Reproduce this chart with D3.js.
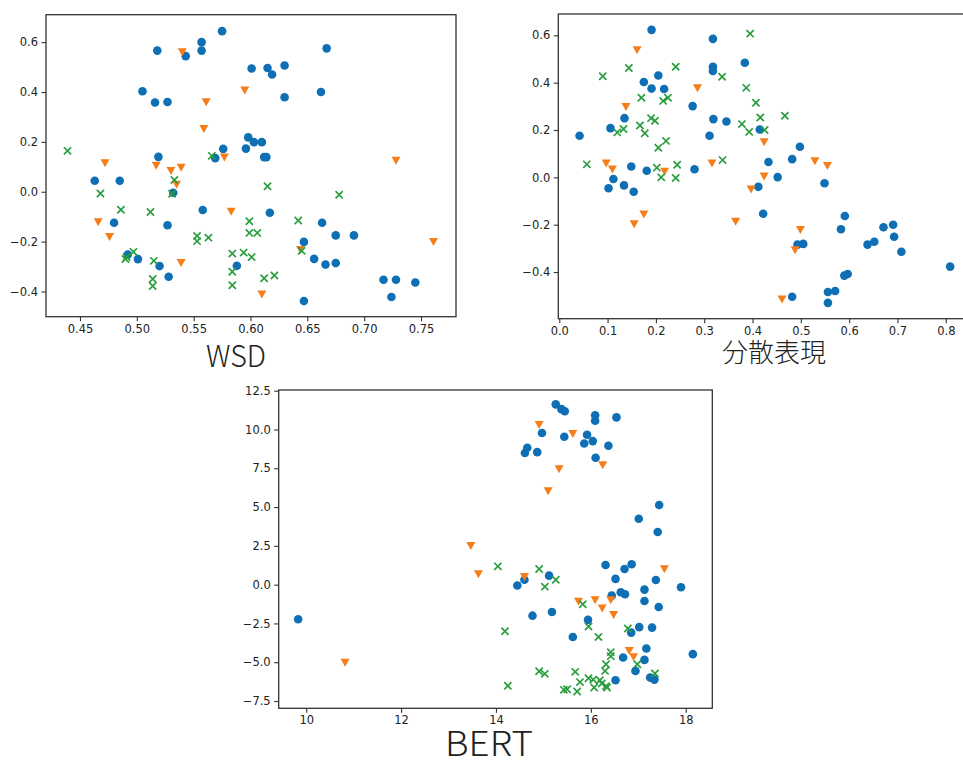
<!DOCTYPE html>
<html>
<head>
<meta charset="utf-8">
<script src="https://cdn.jsdelivr.net/npm/d3@7"></script>
<style>
  html, body { margin: 0; padding: 0; background: #fff; }
  svg { display: block; }
  .tick text { font-family: "DejaVu Sans", sans-serif; font-size: 11.5px; fill: #222; }
  .tick line { stroke: #333; stroke-width: 1.1; }
  .domain { display: none; }
  .xlabel { font-family: "Noto Sans CJK JP", "Noto Sans", sans-serif; font-weight: 300; fill: #222; }
</style>
</head>
<body>
<svg id="chart" width="963" height="760"></svg>
<script>
// ---------------- DATA ----------------
// Panel 1: WSD
const wsdSeriesA = [[0.518,0.566],[0.543,0.544],[0.557,0.600],[0.557,0.566],[0.575,0.644],[0.505,0.403],[0.516,0.358],[0.527,0.360],[0.598,0.218],[0.596,0.173],[0.519,0.140],[0.569,0.135],[0.576,0.172],[0.667,0.575],[0.601,0.494],[0.615,0.496],[0.619,0.470],[0.630,0.506],[0.630,0.379],[0.662,0.400],[0.603,0.199],[0.610,0.199],[0.612,0.139],[0.614,0.139],[0.463,0.044],[0.485,0.044],[0.532,-0.004],[0.558,-0.073],[0.480,-0.124],[0.527,-0.134],[0.492,-0.252],[0.501,-0.270],[0.520,-0.298],[0.528,-0.341],[0.588,-0.297],[0.617,-0.084],[0.663,-0.124],[0.675,-0.175],[0.691,-0.175],[0.647,-0.201],[0.656,-0.269],[0.666,-0.292],[0.675,-0.286],[0.647,-0.438],[0.717,-0.353],[0.728,-0.353],[0.745,-0.364],[0.724,-0.422]];
const wsdSeriesB = [[0.540,0.560],[0.561,0.360],[0.595,0.407],[0.559,0.252],[0.472,0.115],[0.517,0.105],[0.530,0.084],[0.539,0.097],[0.577,0.138],[0.728,0.125],[0.535,0.029],[0.583,-0.079],[0.466,-0.121],[0.476,-0.181],[0.539,-0.285],[0.644,-0.233],[0.761,-0.201],[0.610,-0.411]];
const wsdSeriesC = [[0.439,0.164],[0.566,0.144],[0.468,-0.007],[0.533,0.047],[0.531,-0.008],[0.486,-0.072],[0.512,-0.081],[0.553,-0.177],[0.553,-0.198],[0.563,-0.184],[0.491,-0.262],[0.490,-0.270],[0.497,-0.241],[0.515,-0.277],[0.514,-0.350],[0.514,-0.378],[0.584,-0.248],[0.584,-0.321],[0.584,-0.375],[0.615,0.022],[0.678,-0.012],[0.599,-0.118],[0.599,-0.165],[0.606,-0.165],[0.642,-0.115],[0.645,-0.237],[0.594,-0.244],[0.601,-0.262],[0.612,-0.347],[0.621,-0.336]];
const wsdXTicks = [0.45, 0.50, 0.55, 0.60, 0.65, 0.70, 0.75];
const wsdYTicks = [-0.4, -0.2, 0.0, 0.2, 0.4, 0.6];

// Panel 2: 分散表現
const distSeriesA = [[0.191,0.623],[0.318,0.585],[0.318,0.467],[0.318,0.449],[0.384,0.484],[0.175,0.403],[0.205,0.430],[0.191,0.375],[0.217,0.373],[0.276,0.301],[0.135,0.250],[0.106,0.208],[0.319,0.246],[0.346,0.236],[0.042,0.176],[0.311,0.176],[0.149,0.046],[0.181,0.028],[0.280,0.034],[0.112,-0.007],[0.102,-0.046],[0.134,-0.034],[0.154,-0.061],[0.415,0.202],[0.498,0.129],[0.482,0.077],[0.433,0.065],[0.452,0.001],[0.412,-0.040],[0.549,-0.025],[0.422,-0.154],[0.591,-0.163],[0.583,-0.219],[0.671,-0.211],[0.691,-0.200],[0.693,-0.251],[0.638,-0.284],[0.652,-0.272],[0.493,-0.284],[0.505,-0.281],[0.708,-0.314],[0.809,-0.377],[0.590,-0.415],[0.597,-0.408],[0.556,-0.484],[0.571,-0.480],[0.556,-0.530],[0.482,-0.504]];
const distSeriesB = [[0.161,0.538],[0.286,0.377],[0.138,0.298],[0.097,0.059],[0.110,0.034],[0.218,0.025],[0.316,0.059],[0.175,-0.156],[0.155,-0.197],[0.365,-0.187],[0.424,0.149],[0.529,0.069],[0.555,0.049],[0.424,0.004],[0.397,-0.050],[0.499,-0.221],[0.488,-0.307],[0.461,-0.515]];
const distSeriesC = [[0.395,0.607],[0.090,0.427],[0.144,0.462],[0.241,0.467],[0.337,0.425],[0.387,0.378],[0.170,0.336],[0.215,0.323],[0.225,0.336],[0.120,0.190],[0.133,0.204],[0.167,0.219],[0.177,0.186],[0.190,0.250],[0.198,0.239],[0.378,0.225],[0.205,0.125],[0.221,0.154],[0.057,0.055],[0.202,0.041],[0.244,0.053],[0.338,0.073],[0.211,0.000],[0.241,-0.003],[0.407,0.315],[0.416,0.253],[0.467,0.260],[0.393,0.192],[0.425,0.200]];
const distXTicks = [0.0, 0.1, 0.2, 0.3, 0.4, 0.5, 0.6, 0.7, 0.8];
const distYTicks = [-0.4, -0.2, 0.0, 0.2, 0.4, 0.6];

// Panel 3: BERT
const bertSeriesA = [[9.83,-2.23],[15.26,11.62],[15.38,11.31],[15.45,11.18],[16.09,10.91],[16.09,10.56],[16.54,10.78],[14.97,9.77],[15.44,9.53],[15.92,9.66],[15.86,9.10],[16.04,9.25],[16.37,8.95],[14.61,8.48],[14.66,8.82],[14.87,8.54],[16.10,8.18],[17.44,5.13],[17.01,4.25],[17.41,3.39],[16.31,1.27],[16.71,1.01],[16.86,1.31],[14.60,0.32],[14.45,-0.06],[15.12,0.58],[16.52,0.37],[17.37,0.30],[17.90,-0.17],[17.13,-0.32],[16.63,-0.49],[16.72,-0.62],[16.44,-0.71],[17.13,-1.05],[17.43,-1.44],[14.77,-2.00],[15.18,-1.76],[15.94,-2.27],[15.62,-3.37],[16.85,-3.09],[17.02,-2.74],[17.29,-2.77],[16.68,-4.70],[17.17,-4.12],[17.13,-4.85],[16.94,-5.56],[18.15,-4.48],[17.25,-5.99],[17.34,-6.12],[16.52,-6.16]];
const bertSeriesB = [[10.82,-5.02],[14.91,10.30],[15.62,9.72],[16.25,7.71],[15.33,7.45],[15.10,6.03],[13.47,2.51],[17.55,1.01],[13.63,0.69],[14.60,0.50],[15.74,-1.09],[16.09,-0.99],[16.42,-0.99],[16.24,-1.52],[16.48,-1.95],[16.81,-4.27],[16.90,-4.67]];
const bertSeriesC = [[14.04,1.18],[14.91,1.01],[15.26,0.32],[15.03,-0.13],[15.83,-1.26],[15.95,-2.70],[16.16,-3.37],[14.19,-3.00],[16.78,-2.83],[16.42,-4.35],[16.42,-4.61],[16.98,-5.13],[16.32,-5.13],[16.30,-5.56],[17.35,-5.73],[14.91,-5.58],[15.03,-5.75],[15.67,-5.62],[15.77,-6.28],[15.95,-6.03],[16.05,-6.12],[16.19,-6.16],[16.23,-6.37],[16.07,-6.63],[16.32,-6.54],[16.34,-6.63],[15.43,-6.78],[15.50,-6.74],[15.71,-6.89],[14.25,-6.52]];
const bertXTicks = [10, 12, 14, 16, 18];
const bertYTicks = [-7.5, -5.0, -2.5, 0.0, 2.5, 5.0, 7.5, 10.0, 12.5];

const axisLabels = ["WSD", "分散表現", "BERT"];

// ---------------- STYLE / LAYOUT ----------------
const COLORS = { A: "#0e6fb4", B: "#f57e1b", C: "#2a9e3e" };
const panels = [
  { label: axisLabels[0], a: wsdSeriesA, b: wsdSeriesB, c: wsdSeriesC,
    xDom: [0.4201, 0.7808], yDom: [-0.501, 0.710], box: [46, 14.7, 456, 316.7],
    xTicks: wsdXTicks, yTicks: wsdYTicks, xFmt: d3.format(".2f"), yFmt: d3.format(".1f"),
    labelPos: [236, 367], labelLen: 60, labelSize: 30 },
  { label: axisLabels[1], a: distSeriesA, b: distSeriesB, c: distSeriesC,
    xDom: [-0.002, 0.848], yDom: [-0.597, 0.690], box: [558.3, 14, 969, 318.7],
    xTicks: distXTicks, yTicks: distYTicks, xFmt: d3.format(".1f"), yFmt: d3.format(".1f"),
    labelPos: [774, 362], labelLen: 104, labelSize: 26 },
  { label: axisLabels[2], a: bertSeriesA, b: bertSeriesB, c: bertSeriesC,
    xDom: [9.42, 18.56], yDom: [-7.97, 12.545], box: [278.7, 390, 712.3, 708.3],
    xTicks: bertXTicks, yTicks: bertYTicks, xFmt: d3.format("d"), yFmt: d3.format(".1f"),
    labelPos: [489, 756], labelLen: 88, labelSize: 34 }
];

const svg = d3.select("#chart");
svg.append("rect").attr("width", 963).attr("height", 760).attr("fill", "#fff");

const minusFmt = f => (d => f(d).replace("-", "\u2212"));
const triPath = "M-4.5,-3.8L4.5,-3.8L0,4.2Z";
const crossPath = "M-3.6,-3.6L3.6,3.6M-3.6,3.6L3.6,-3.6";

panels.forEach((p, i) => {
  const [x0, y0, x1, y1] = p.box;
  const x = d3.scaleLinear().domain(p.xDom).range([x0, x1]);
  const y = d3.scaleLinear().domain(p.yDom).range([y1, y0]);
  const g = svg.append("g").attr("class", "panel" + i);

  const clipId = "clip" + i;
  svg.append("clipPath").attr("id", clipId).append("rect")
    .attr("x", x0).attr("y", y0).attr("width", x1 - x0).attr("height", y1 - y0);

  g.append("g").attr("transform", `translate(0,${y1})`)
    .call(d3.axisBottom(x).tickValues(p.xTicks).tickFormat(minusFmt(p.xFmt)).tickSize(4.5).tickPadding(3.5));
  g.append("g").attr("transform", `translate(${x0},0)`)
    .call(d3.axisLeft(y).tickValues(p.yTicks).tickFormat(minusFmt(p.yFmt)).tickSize(4.5).tickPadding(3.5));

  const marks = g.append("g").attr("clip-path", `url(#${clipId})`);
  marks.selectAll("circle.a").data(p.a).join("circle").attr("class", "a")
    .attr("cx", d => x(d[0])).attr("cy", d => y(d[1])).attr("r", 4.3).attr("fill", COLORS.A);
  marks.selectAll("path.b").data(p.b).join("path").attr("class", "b")
    .attr("d", triPath).attr("transform", d => `translate(${x(d[0])},${y(d[1])})`).attr("fill", COLORS.B);
  marks.selectAll("path.c").data(p.c).join("path").attr("class", "c")
    .attr("d", crossPath).attr("transform", d => `translate(${x(d[0])},${y(d[1])})`)
    .attr("fill", "none").attr("stroke", COLORS.C).attr("stroke-width", 1.7);

  g.append("rect").attr("x", x0).attr("y", y0).attr("width", x1 - x0).attr("height", y1 - y0)
    .attr("fill", "none").attr("stroke", "#333").attr("stroke-width", 1.3);

  g.append("text").attr("class", "xlabel")
    .attr("x", p.labelPos[0]).attr("y", p.labelPos[1]).attr("text-anchor", "middle")
    .attr("font-size", p.labelSize)
    .attr("textLength", p.labelLen).attr("lengthAdjust", "spacingAndGlyphs")
    .text(p.label);
});
</script>
</body>
</html>
